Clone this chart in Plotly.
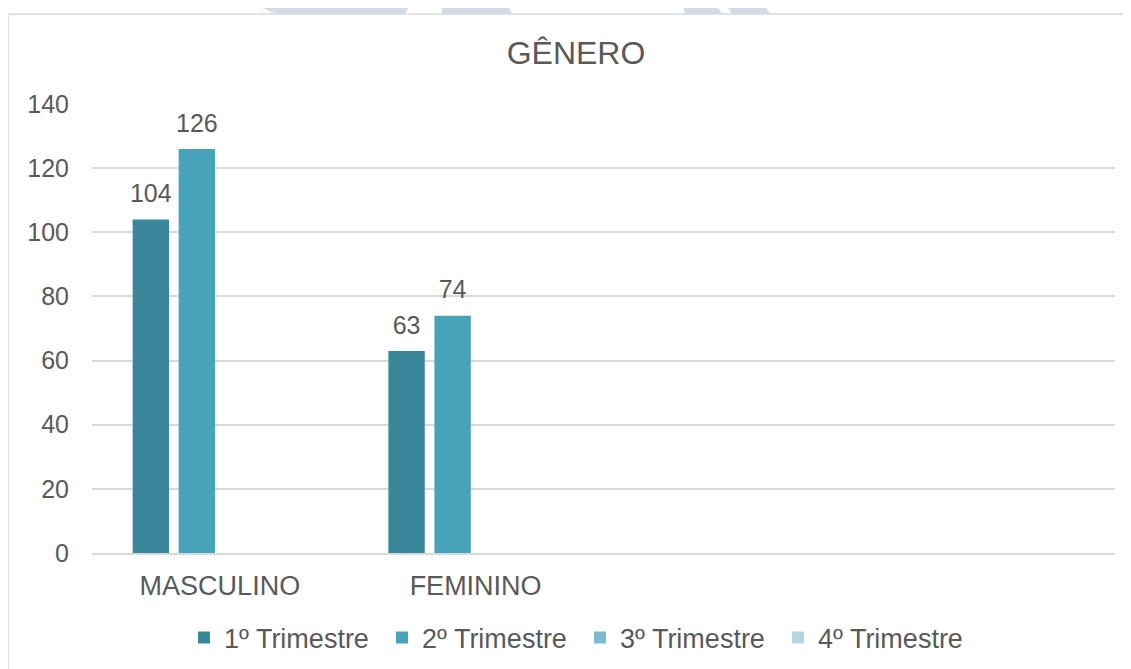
import plotly.graph_objects as go

# ---- data ----
categories = ["MASCULINO", "FEMININO", " ", "  "]
series_names = ["1º Trimestre", "2º Trimestre", "3º Trimestre", "4º Trimestre"]
t1 = [104, 63, None, None]
t2 = [126, 74, None, None]
t3 = [None, None, None, None]
t4 = [None, None, None, None]
y_ticks = [0, 20, 40, 60, 80, 100, 120, 140]
title_text = "GÊNERO"

colors = ["#38879A", "#47A3BA", "#7BB9CE", "#B5D5E0"]
FONT = "Liberation Sans, Arial, sans-serif"
TXT = "#595959"

OFF = 8  # browser body margin
W, H = 1131, 669
# desired page-pixel positions of the plot area
L, R, T, B = 92 - OFF, 1115 - OFF, 104 - OFF, 553 - OFF


def px(x):
    return (x - OFF - L) / (R - L)


def py(y):
    return (B - (y - OFF)) / (B - T)


fig = go.Figure()
for name, vals, col in zip(series_names, [t1, t2, t3, t4], colors):
    fig.add_trace(go.Bar(
        x=categories, y=vals, name=name, marker=dict(color=col, line=dict(width=0)),
        hoverinfo="skip",
    ))
# data labels placed above bars via grouped scatter text
for name, vals in zip(series_names, [t1, t2, t3, t4]):
    fig.add_trace(go.Scatter(
        x=categories, y=vals, name=name, mode="markers+text", showlegend=False,
        text=[("" if v is None else str(v)) for v in vals], textposition="top center",
        marker=dict(size=16, opacity=0), cliponaxis=False, hoverinfo="skip",
        textfont=dict(family=FONT, size=25, color=TXT),
    ))

# chart border and faint watermark shapes
shapes = [dict(type="rect", xref="paper", yref="paper",
               x0=px(8), x1=px(1160), y0=py(700), y1=py(14),
               line=dict(color="#D9D9D9", width=1.5), fillcolor="rgba(0,0,0,0)", layer="below")]

wm = "#D5DBE5"
polys = [
    [(242, 0), (330, 0), (340, 5), (353, 7), (366, 5), (377, 0), (413, 0), (405, 14), (277, 14)],
    [(442, 0), (505, 0), (512, 14), (442, 14)],
    [(681, 0), (713, 0), (722, 14), (685, 14)],
    [(723, 0), (762, 0), (770, 14), (732, 14)],
]
for poly in polys:
    path = "M " + " L ".join(f"{px(x):.5f},{py(y):.5f}" for x, y in poly) + " Z"
    shapes.append(dict(type="path", xref="paper", yref="paper", path=path,
                       fillcolor=wm, line=dict(width=0), layer="below"))

fig.update_layout(
    width=W, height=H,
    margin=dict(l=L, r=W - R, t=T, b=H - B, autoexpand=False),
    paper_bgcolor="white", plot_bgcolor="white",
    barmode="group", bargap=0.28, bargroupgap=0.21,
    scattermode="group", scattergap=0.28,
    title=dict(text=title_text, x=(576 - OFF) / W, xanchor="center", xref="container",
               y=1 - (53 - OFF) / H, yanchor="middle", yref="container",
               font=dict(family=FONT, size=32, color=TXT)),
    font=dict(family=FONT, color=TXT),
    legend=dict(orientation="h", x=px(580), xanchor="center", y=py(638), yanchor="middle",
                font=dict(family=FONT, size=27, color=TXT), traceorder="normal",
                entrywidth=153, entrywidthmode="pixels", itemclick=False),
    shapes=shapes,
    showlegend=True,
)
fig.update_xaxes(type="category", categoryorder="array", categoryarray=categories,
                 showgrid=False, showline=True, linecolor="#D9D9D9", linewidth=1.5,
                 ticks="", tickfont=dict(family=FONT, size=27, color=TXT),
                 ticklabelstandoff=8, fixedrange=True)
fig.update_yaxes(range=[0, 140], tickvals=y_ticks, showgrid=True, gridcolor="#D9D9D9",
                 gridwidth=1.5, zeroline=False, showline=False, ticks="",
                 tickfont=dict(family=FONT, size=25, color=TXT), ticklabelstandoff=22,
                 fixedrange=True)

fig.write_html("out.html")
